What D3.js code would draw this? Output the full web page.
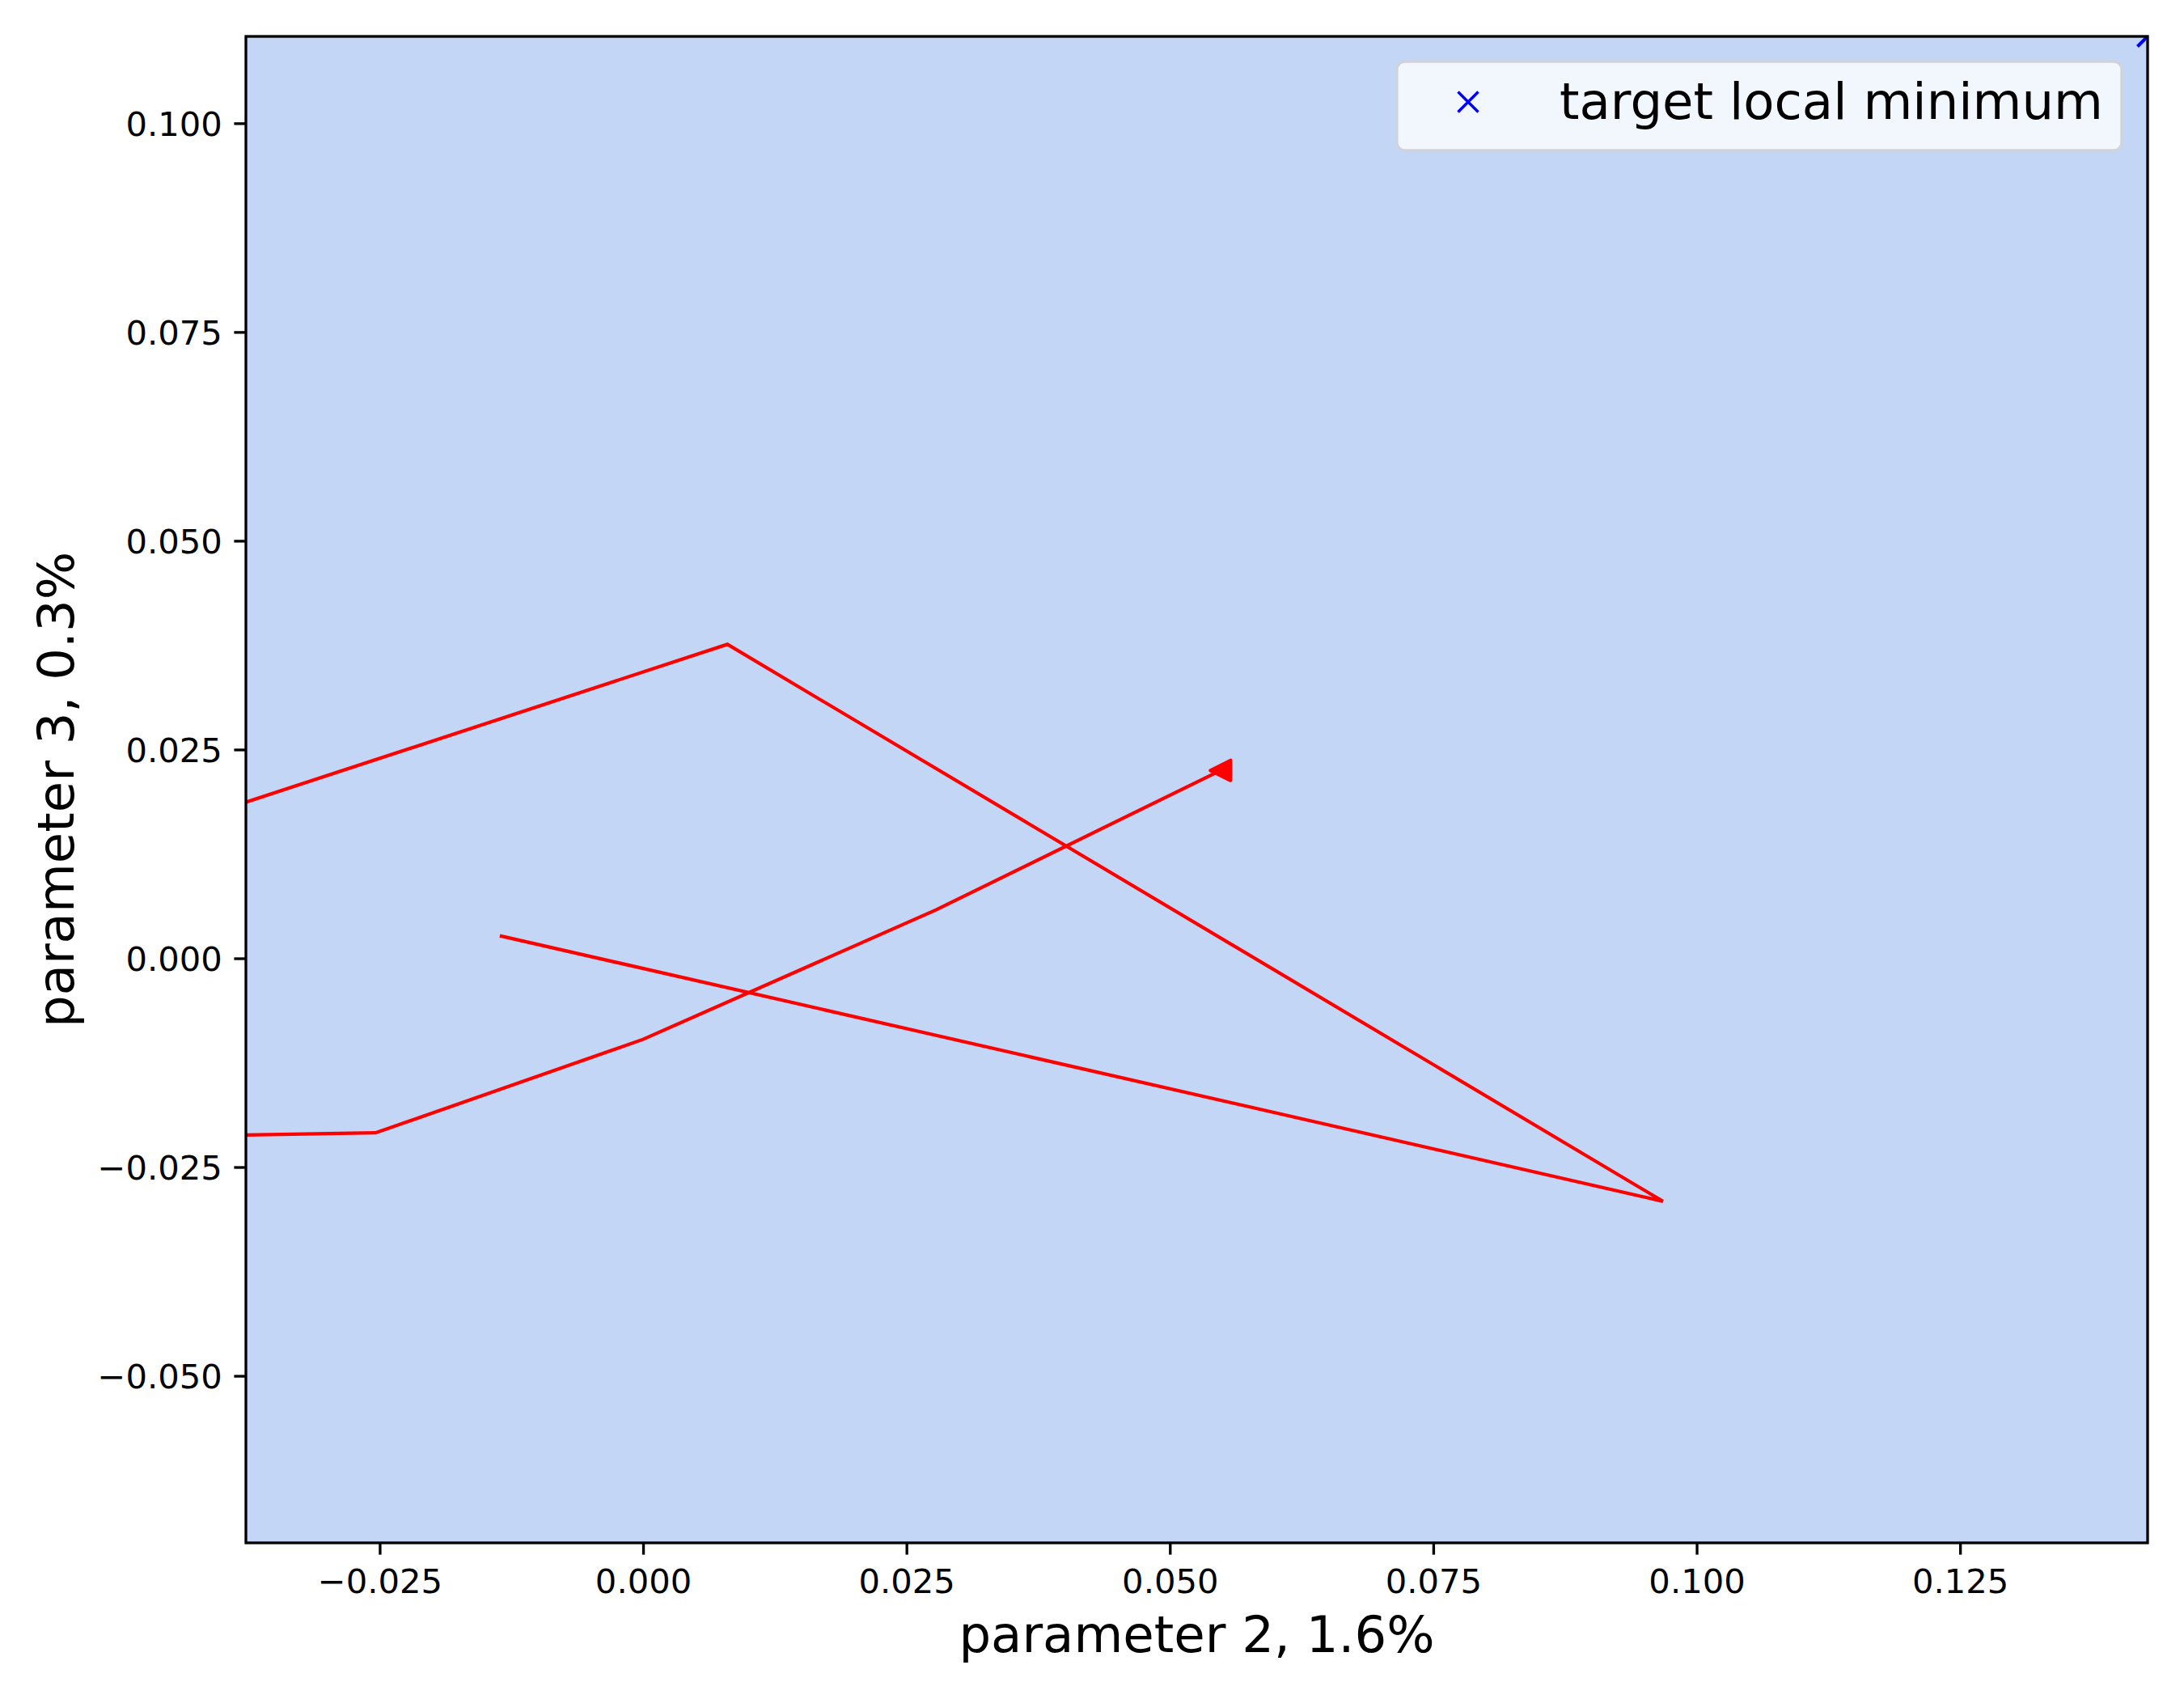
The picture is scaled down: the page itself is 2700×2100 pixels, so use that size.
<!DOCTYPE html>
<html>
<head>
<meta charset="utf-8">
<script src="https://cdn.jsdelivr.net/npm/d3@7"></script>
<style>
    body { margin: 0; background: #ffffff; }
    svg { display: block; font-family: "DejaVu Sans", sans-serif; }
</style>
</head>
<body>
<div id="chart-container"></div>
<script>
// trajectory projected on parameter 2 / parameter 3
const pathX = [-0.0136, 0.0968, 0.0080, -0.1392, -0.0254, 0.0000, 0.0278, 0.0548];
const pathY = [0.0027, -0.0291, 0.0376, -0.0233, -0.0209, -0.0097, 0.0058, 0.0225];
const targetPoint = [0.1428, 0.1104];
const xDomain = [-0.0377, 0.1428];
const yDomain = [-0.0700, 0.1104];
const xTicks = [-0.025, 0, 0.025, 0.05, 0.075, 0.1, 0.125];
const yTicks = [-0.05, -0.025, 0, 0.025, 0.05, 0.075, 0.1];
const xLabel = "parameter 2, 1.6%";
const yLabel = "parameter 3, 0.3%";
const legendLabel = "target local minimum";

function drawChart() {
    let margin = { top: 45, right: 45, bottom: 193, left: 304 };
    let totalWidth = 2700, totalHeight = 2100;
    let width = totalWidth - margin.left - margin.right;
    let height = totalHeight - margin.top - margin.bottom;

    let svg = d3.select("#chart-container")
        .append("svg")
        .attr("width", totalWidth)
        .attr("height", totalHeight);

    let x = d3.scaleLinear().domain(xDomain).range([0, width]);
    let y = d3.scaleLinear().domain(yDomain).range([height, 0]);

    let chartGroup = svg.append("g")
        .attr("transform", `translate(${margin.left}, ${margin.top})`);

    svg.append("defs").append("clipPath")
        .attr("id", "plot-clip")
        .append("rect")
        .attr("width", width)
        .attr("height", height);

    // axes background
    chartGroup.append("rect")
        .attr("width", width)
        .attr("height", height)
        .attr("fill", "#c3d6f5");

    let plotArea = chartGroup.append("g").attr("clip-path", "url(#plot-clip)");

    let points = pathX.map((v, i) => [v, pathY[i]]);
    let line = d3.line()
        .x(d => x(d[0]))
        .y(d => y(d[1]));

    plotArea.append("path")
        .datum(points)
        .attr("d", line)
        .attr("fill", "none")
        .attr("stroke", "#ff0000")
        .attr("stroke-width", 4.2)
        .attr("stroke-linejoin", "miter");

    // triangle marker at the last point
    let last = points[points.length - 1];
    let s = 12.5;
    plotArea.append("path")
        .attr("transform", `translate(${x(last[0])}, ${y(last[1])})`)
        .attr("d", `M${-s},0 L${s},${-s} L${s},${s} Z`)
        .attr("fill", "#ff0000")
        .attr("stroke", "#ff0000")
        .attr("stroke-width", 4.2)
        .attr("stroke-linejoin", "round");

    // target marker
    plotArea.append("path")
        .attr("transform", `translate(${x(targetPoint[0])}, ${y(targetPoint[1])})`)
        .attr("d", `M${-s},${-s} L${s},${s} M${-s},${s} L${s},${-s}`)
        .attr("stroke", "#0000ff")
        .attr("stroke-width", 4.2)
        .attr("fill", "none");

    let xAxis = d3.axisBottom(x)
        .tickValues(xTicks)
        .tickFormat(d3.format(".3f"))
        .tickSize(14.6)
        .tickPadding(14.6);
    let yAxis = d3.axisLeft(y)
        .tickValues(yTicks)
        .tickFormat(d3.format(".3f"))
        .tickSize(14.6)
        .tickPadding(14.6);

    let gx = chartGroup.append("g")
        .attr("transform", `translate(0, ${height})`)
        .call(xAxis);
    let gy = chartGroup.append("g")
        .call(yAxis);

    [gx, gy].forEach(g => {
        g.select(".domain").remove();
        g.selectAll(".tick line").attr("stroke", "#000").attr("stroke-width", 3.33);
        g.selectAll(".tick text")
            .attr("fill", "#000")
            .style("font-size", "41.7px")
            .style("font-family", "DejaVu Sans");
    });
    gx.selectAll(".tick text").attr("dy", "0.78em");
    gy.selectAll(".tick text").attr("dy", "0.36em");

    // spines
    chartGroup.append("rect")
        .attr("width", width)
        .attr("height", height)
        .attr("fill", "none")
        .attr("stroke", "#000")
        .attr("stroke-width", 3.33);

    // axis labels
    svg.append("text")
        .attr("x", margin.left + width / 2)
        .attr("y", 2042)
        .attr("text-anchor", "middle")
        .style("font-size", "62.5px")
        .text(xLabel);

    svg.append("text")
        .attr("transform", `translate(91, ${margin.top + height / 2}) rotate(-90)`)
        .attr("text-anchor", "middle")
        .style("font-size", "62.5px")
        .text(yLabel);

    // legend
    let legend = svg.append("g").attr("transform", "translate(1727, 76)");
    legend.append("rect")
        .attr("width", 896)
        .attr("height", 110)
        .attr("rx", 10)
        .attr("fill", "#f2f6fd")
        .attr("stroke", "#d0d4da")
        .attr("stroke-width", 3.3);
    legend.append("path")
        .attr("transform", "translate(88, 50)")
        .attr("d", `M${-s},${-s} L${s},${s} M${-s},${s} L${s},${-s}`)
        .attr("stroke", "#0000ff")
        .attr("stroke-width", 3.5)
        .attr("fill", "none");
    legend.append("text")
        .attr("x", 201)
        .attr("y", 71)
        .style("font-size", "62.5px")
        .text(legendLabel);
}

drawChart();
</script>
</body>
</html>
